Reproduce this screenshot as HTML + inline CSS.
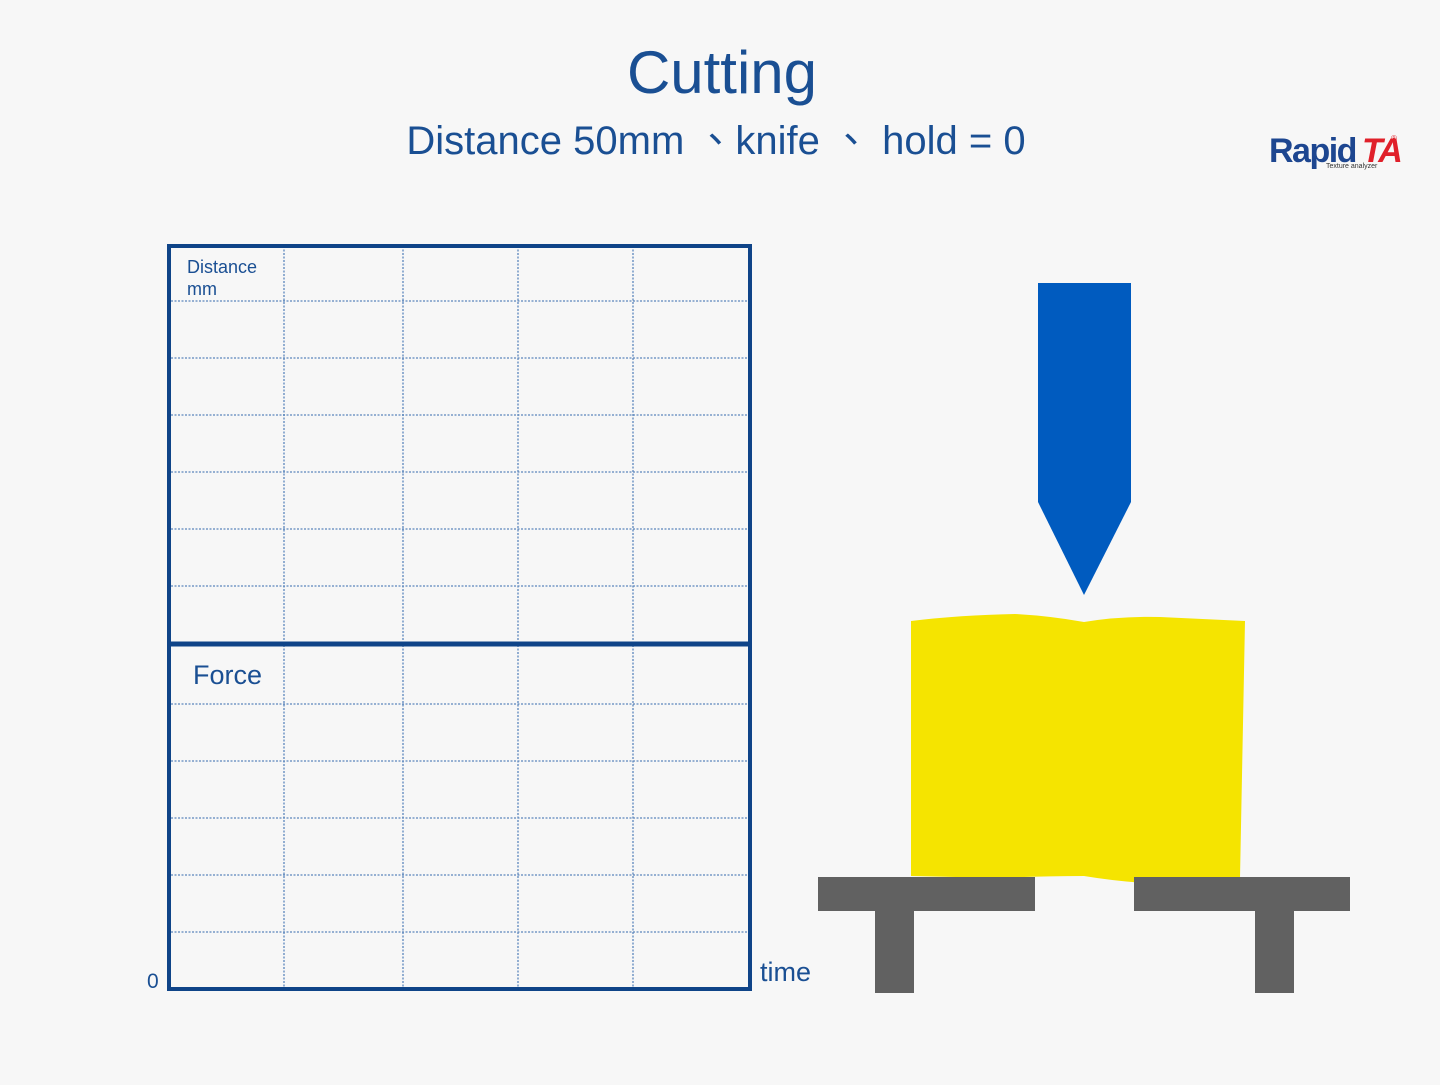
<!DOCTYPE html>
<html><head><meta charset="utf-8"><style>
body{margin:0;width:1440px;height:1080px;background:#f7f7f7;overflow:hidden;font-family:"Liberation Sans","Noto Sans CJK TC",sans-serif;}
</style></head><body>
<svg width="1440" height="1080" viewBox="0 0 1440 1080" xmlns="http://www.w3.org/2000/svg">
<rect width="1440" height="1080" fill="#f7f7f7"/>
<text x="722" y="93" text-anchor="middle" font-size="60" fill="#1a4f93" font-family="Liberation Sans, sans-serif">Cutting</text>
<text x="716" y="154" text-anchor="middle" font-size="40" fill="#1a4f93" font-family="Liberation Sans, Noto Sans CJK TC, sans-serif">Distance 50mm 、knife 、 hold = 0</text>
<g>
<text x="1269" y="162" font-size="34" font-weight="bold" fill="#1d4690" font-family="Liberation Sans, sans-serif" letter-spacing="-1.5">Rapid</text>
<text x="1362" y="162" font-size="34" font-weight="bold" fill="#e0202a" font-family="Liberation Sans, sans-serif" font-style="italic" letter-spacing="-2">TA</text>
<text x="1391" y="141" font-size="8" fill="#e0202a">®</text>
<text x="1326" y="168" font-size="7" fill="#333">Texture analyzer</text>
</g>
<g id="grid"></g>
<text x="187" y="273" font-size="18" fill="#1a4f93">Distance</text>
<text x="187" y="295" font-size="18" fill="#1a4f93">mm</text>
<text x="193" y="684" font-size="27" fill="#1a4f93">Force</text>
<text x="147" y="988" font-size="21" fill="#1a4f93">0</text>
<text x="760" y="981" font-size="27" fill="#1a4f93">time</text>
<polygon points="1038,283 1131,283 1131,502 1084,595 1038,502" fill="#005bbf"/>
<path d="M911,621 Q960,615 1015,614 Q1050,616 1084,622 Q1120,616 1160,617 L1245,621 L1240,878 Q1190,880 1160,884 Q1120,882 1084,876 Q1040,876 1000,878 L911,876 Z" fill="#f5e400"/>
<g fill="#616161">
<rect x="818" y="877" width="217" height="34"/>
<rect x="875" y="911" width="39" height="82"/>
<rect x="1134" y="877" width="216" height="34"/>
<rect x="1255" y="911" width="39" height="82"/>
</g>
</svg>
<script>
const timeGridTicks=[0,1,2,3,4,5];
const distanceGridTicks=[0,1,2,3,4,5,6,7];
const forceGridTicks=[0,1,2,3,4,5,6];
const X0=171,X1=748,T0=246,M=644,B=989;
const colX=[171,284,403,518,633,748];
function xs(i){return colX[i];}
function yd(i){return T0+ (i===0?0:55+(i-1)*57);}
function yf(i){return M+ (i===0?0:60+(i-1)*57);}
const ns="http://www.w3.org/2000/svg";
const g=document.getElementById('grid');
function ln(x1,y1,x2,y2,name){const l=document.createElementNS(ns,'line');l.setAttribute('x1',x1);l.setAttribute('y1',y1);l.setAttribute('x2',x2);l.setAttribute('y2',y2);l.setAttribute('stroke','#5b86bd');l.setAttribute('stroke-width','1.3');l.setAttribute('stroke-dasharray','2 1.5');


g.appendChild(l);}
timeGridTicks.slice(1,5).forEach(i=>ln(xs(i),T0,xs(i),B,'vertical-gridline'));
distanceGridTicks.slice(1,7).forEach(i=>ln(X0,yd(i),X1,yd(i),'distance-gridline'));
forceGridTicks.slice(1,6).forEach(i=>ln(X0,yf(i),X1,yf(i),'force-gridline'));
const f=document.createElementNS(ns,'rect');f.setAttribute('x',169);f.setAttribute('y',246);f.setAttribute('width',581);f.setAttribute('height',743);f.setAttribute('fill','none');f.setAttribute('stroke','#0f4488');f.setAttribute('stroke-width','4');


g.appendChild(f);
const d=document.createElementNS(ns,'line');d.setAttribute('x1',169);d.setAttribute('x2',750);d.setAttribute('y1',M);d.setAttribute('y2',M);d.setAttribute('stroke','#0f4488');d.setAttribute('stroke-width','5');


g.appendChild(d);
</script>
</body></html>
